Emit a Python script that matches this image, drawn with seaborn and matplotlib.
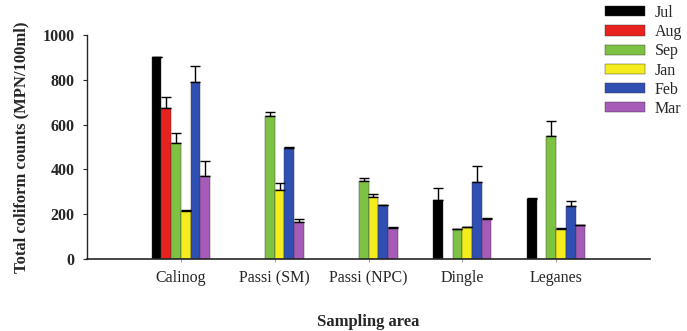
import numpy as np
import pandas as pd
import matplotlib
matplotlib.use("Agg")
import matplotlib.pyplot as plt
import seaborn as sns

nan = np.nan
sites = ["Calinog", "Passi (SM)", "Passi (NPC)", "Dingle", "Leganes"]
months = ["Jul", "Aug", "Sep", "Jan", "Feb", "Mar"]

# mean counts per month, one value per site (nan = not sampled)
jul = [900, nan, nan, 265, 270]
aug = [675, nan, nan, nan, nan]
sep = [520, 640, 350, 132, 550]
jan = [215, 310, 275, 141, 135]
feb = [790, 495, 240, 345, 235]
mar = [370, 165, 140, 180, 150]

# upper error
jul_err = [0, 0, 0, 50, 4]
aug_err = [50, 0, 0, 0, 0]
sep_err = [42, 15, 12, 3, 66]
jan_err = [3, 30, 15, 4, 4]
feb_err = [72, 4, 3, 70, 22]
mar_err = [68, 12, 2, 3, 4]

palette = ["#000000", "#e8221e", "#7dc243", "#f4ec1c", "#2f4fb3", "#a65bb8"]

values = [jul, aug, sep, jan, feb, mar]
errs = [jul_err, aug_err, sep_err, jan_err, feb_err, mar_err]
rows = []
for m, vals, ers in zip(months, values, errs):
    for s, v, e in zip(sites, vals, ers):
        rows.append({"site": s, "month": m, "count": v, "err": e})
df = pd.DataFrame(rows)

sns.set_style("ticks")
plt.rcParams["font.family"] = ["Liberation Serif", "DejaVu Serif"]

fig = plt.figure(figsize=(6.87, 3.31), dpi=100)
ax = fig.add_axes([87/687, 1 - 259/331, (650 - 87)/687, (259 - 35)/331])

sns.barplot(data=df.dropna(subset=["count"]), x="site", y="count", hue="month",
            order=sites, hue_order=months, palette=palette, width=0.62,
            errorbar=None, ax=ax, saturation=1, edgecolor="#333333", linewidth=0.3)

err_lookup = {(r.month, r.site): r.err for r in df.itertuples()}
for month, cont in zip(months, ax.containers):
    for bar in cont:
        h = bar.get_height()
        if np.isnan(h) or h == 0:
            continue
        xc = bar.get_x() + bar.get_width() / 2
        site = sites[int(round(xc))]
        e = err_lookup[(month, site)]
        ax.errorbar(xc, h, yerr=[[0], [e]], fmt="none", ecolor="black",
                    elinewidth=1.0, capsize=3.5, capthick=1.0)

ax.set_xlim(-1, 5)
ax.set_ylim(0, 1000)
ax.set_yticks([0, 200, 400, 600, 800, 1000])
sns.despine(ax=ax)
ax.tick_params(axis="y", labelsize=11.5, length=3, width=0.8, pad=6)
ax.tick_params(axis="x", labelsize=11.5, length=2, width=0.6, color="#888888", pad=6)
for t in ax.get_yticklabels():
    t.set_fontweight("bold")
ax.spines["left"].set_linewidth(1.0)
ax.spines["bottom"].set_linewidth(1.2)

ax.set_xlabel("Sampling area", fontsize=12, fontweight="bold", labelpad=20)
ax.set_ylabel("Total coliform counts (MPN/100ml)", fontsize=12, fontweight="bold", labelpad=9)

handles, labels = ax.get_legend_handles_labels()
ax.legend(handles, labels, loc="upper left", bbox_to_anchor=(605/687, 1 - 5/331),
          bbox_transform=fig.transFigure, frameon=False, fontsize=11.5,
          borderpad=0, borderaxespad=0, handlelength=2.5, handleheight=0.6,
          handletextpad=0.6, labelspacing=0.2)

fig.savefig("out.png", dpi=100)
